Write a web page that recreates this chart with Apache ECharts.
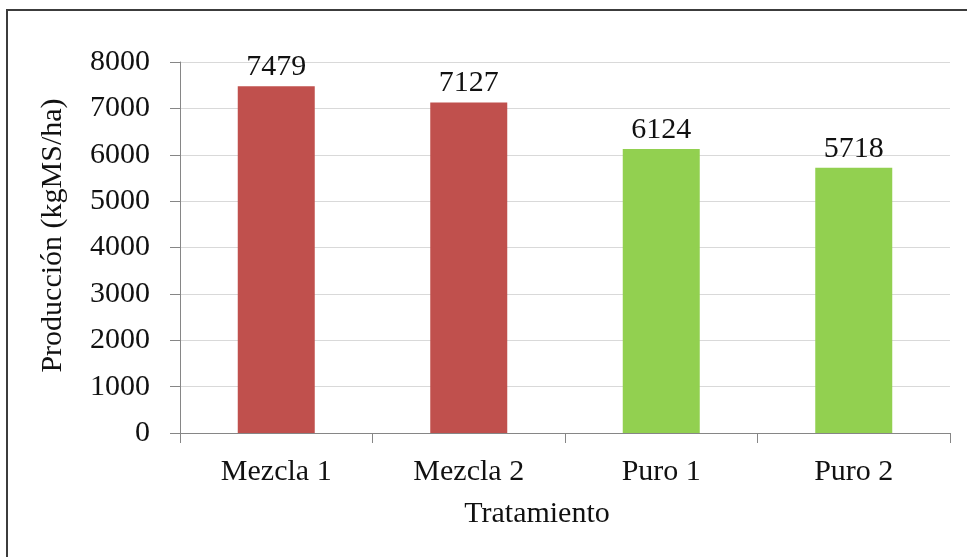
<!DOCTYPE html>
<html>
<head>
<meta charset="utf-8">
<script src="https://cdn.jsdelivr.net/npm/echarts@6/dist/echarts.min.js"></script>
<style>
  html, body { margin: 0; padding: 0; background: #ffffff; }
  #chart { width: 967px; height: 557px; }
</style>
</head>
<body>
<div id="chart"></div>
<script>
const categories = ['Mezcla 1', 'Mezcla 2', 'Puro 1', 'Puro 2'];
const groups = ['Mezcla', 'Mezcla', 'Puro', 'Puro'];
const values = [7479, 7127, 6124, 5718];
const yTicks = [0, 1000, 2000, 3000, 4000, 5000, 6000, 7000, 8000];
const yAxisTitle = 'Producción (kgMS/ha)';
const xAxisTitle = 'Tratamiento';

const groupColors = { Mezcla: '#C0504D', Puro: '#92D050' };
const FONT = 'Liberation Serif';
const TXT = '#111111';

const chart = echarts.init(document.getElementById('chart'), null, { renderer: 'canvas' });

chart.setOption({
  animation: false,
  backgroundColor: '#ffffff',
  graphic: [{
    type: 'rect',
    shape: { x: 7, y: 10, width: 1000, height: 600 },
    style: { fill: 'none', stroke: '#3c3c3c', lineWidth: 2 },
    silent: true,
    z: -1
  }],
  grid: { left: 180, right: 17, top: 62, bottom: 124 },
  xAxis: {
    type: 'category',
    data: categories,
    name: xAxisTitle,
    nameLocation: 'middle',
    nameGap: 66,
    nameTextStyle: { fontFamily: FONT, fontSize: 30, color: TXT, padding: [0, 56, 0, 0] },
    axisLine: { show: true, lineStyle: { color: '#868686', width: 1 } },
    axisTick: { show: true, alignWithLabel: false, length: 10, lineStyle: { color: '#868686' } },
    axisLabel: { fontFamily: FONT, fontSize: 30, color: TXT, margin: 24 },
    splitLine: { show: false }
  },
  yAxis: {
    type: 'value',
    min: yTicks[0],
    max: yTicks[yTicks.length - 1],
    interval: yTicks[1] - yTicks[0],
    name: yAxisTitle,
    nameLocation: 'middle',
    nameGap: 112,
    nameTextStyle: { fontFamily: FONT, fontSize: 30, color: TXT, padding: [0, 0, 0, 24] },
    axisLine: { show: true, lineStyle: { color: '#868686', width: 1 } },
    axisTick: { show: true, length: 10, lineStyle: { color: '#868686' } },
    axisLabel: { fontFamily: FONT, fontSize: 30, color: TXT, margin: 30, formatter: (v) => String(v) },
    splitLine: { show: true, lineStyle: { color: '#D9D9D9', width: 1 } }
  },
  series: [{
    type: 'bar',
    barWidth: '40%',
    data: values.map((v, i) => ({ value: v, itemStyle: { color: groupColors[groups[i]] } })),
    label: {
      show: true,
      position: 'top',
      distance: 4,
      fontFamily: FONT,
      fontSize: 30,
      color: TXT
    }
  }]
});
</script>
</body>
</html>
